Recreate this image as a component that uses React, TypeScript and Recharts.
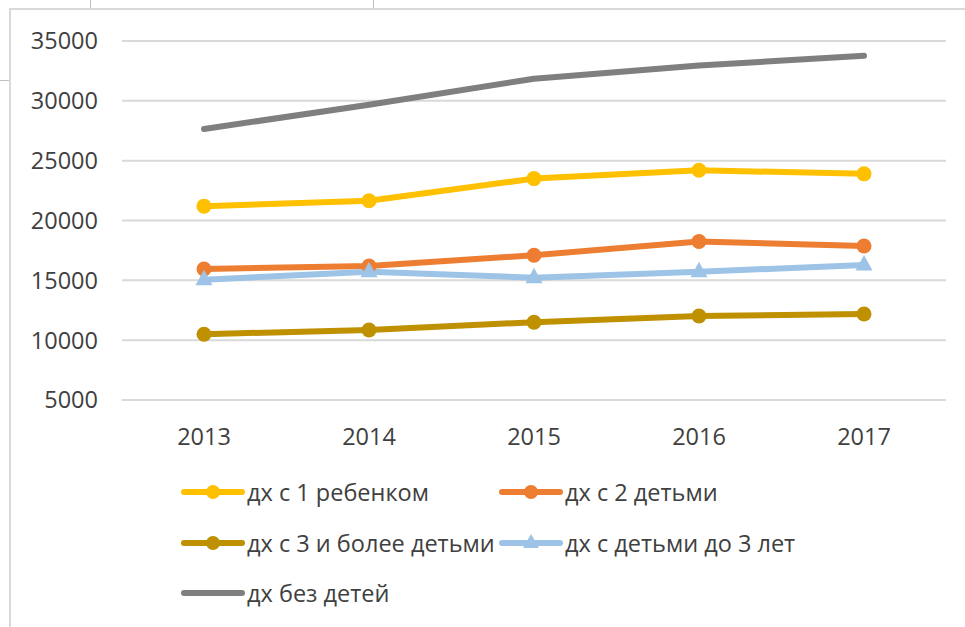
import React from "react";
import { LineChart, Line, XAxis, YAxis, CartesianGrid, Legend } from "recharts";

const YEARS = ["2013", "2014", "2015", "2016", "2017"];
const ONE_CHILD = [21200, 21650, 23500, 24200, 23900];
const TWO_CHILDREN = [15950, 16200, 17100, 18250, 17870];
const THREE_PLUS = [10500, 10850, 11500, 12020, 12190];
const UNDER_THREE = [15050, 15720, 15220, 15720, 16280];
const NO_CHILDREN = [27650, 29680, 31850, 32950, 33760];
const Y_TICKS = [5000, 10000, 15000, 20000, 25000, 30000, 35000];

const FONT = "'Open Sans', sans-serif";
const TEXT = "#404040";
const FONT_SIZE = 23.5;

type Marker = "circle" | "triangle" | "none";

interface SeriesDef {
  key: string;
  name: string;
  color: string;
  marker: Marker;
  values: number[];
}

const SERIES: SeriesDef[] = [
  { key: "one", name: "дх с 1 ребенком", color: "#FFC000", marker: "circle", values: ONE_CHILD },
  { key: "two", name: "дх с 2 детьми", color: "#ED7D31", marker: "circle", values: TWO_CHILDREN },
  { key: "three", name: "дх с 3 и более детьми", color: "#BF9000", marker: "circle", values: THREE_PLUS },
  { key: "under3", name: "дх с детьми до 3 лет", color: "#9DC3E6", marker: "triangle", values: UNDER_THREE },
  { key: "none", name: "дх без детей", color: "#7F7F7F", marker: "none", values: NO_CHILDREN },
];

const data = YEARS.map((year, i) => {
  const row: Record<string, string | number> = { year };
  SERIES.forEach((s) => {
    row[s.key] = s.values[i];
  });
  return row;
});

const makeDot = (s: SeriesDef) => {
  if (s.marker === "none") return false;
  return (props: any) => {
    const { cx, cy, index } = props;
    if (cx == null || cy == null) return <g key={`${s.key}-${index}`} />;
    if (s.marker === "triangle") {
      return (
        <path
          key={`${s.key}-${index}`}
          d={`M${cx},${cy - 10} L${cx + 8.5},${cy + 5.5} L${cx - 8.5},${cy + 5.5} Z`}
          fill={s.color}
        />
      );
    }
    return <circle key={`${s.key}-${index}`} cx={cx} cy={cy} r={7.5} fill={s.color} />;
  };
};

const LegendIcon = ({ s }: { s: SeriesDef }) => (
  <svg width={64} height={20} style={{ display: "block" }}>
    <line x1={3} y1={10} x2={61} y2={10} stroke={s.color} strokeWidth={6} strokeLinecap="round" />
    {s.marker === "circle" && <circle cx={32} cy={10} r={7} fill={s.color} />}
    {s.marker === "triangle" && <path d="M32,1 L40,15 L24,15 Z" fill={s.color} />}
  </svg>
);

const renderLegend = () => {
  const cols = [181, 499];
  const rows = [482, 533, 583];
  return (
    <div style={{ position: "relative", width: 965, height: 627 }}>
      {SERIES.map((s, i) => (
        <div
          key={s.key}
          style={{
            position: "absolute",
            left: cols[i % 2],
            top: rows[Math.floor(i / 2)],
            display: "flex",
            alignItems: "center",
            whiteSpace: "nowrap",
            fontFamily: FONT,
            fontSize: FONT_SIZE,
            color: TEXT,
            lineHeight: "20px",
          }}
        >
          <LegendIcon s={s} />
          <span style={{ marginLeft: 2 }}>{s.name}</span>
        </div>
      ))}
    </div>
  );
};

export default function App() {
  return (
    <div style={{ position: "absolute", left: 0, top: 0, width: 965, height: 627, background: "#fff", overflow: "hidden" }}>
      {/* sheet cell lines behind the chart */}
      <div style={{ position: "absolute", left: 90, top: 0, width: 1, height: 9, background: "#BFBFBF" }} />
      <div style={{ position: "absolute", left: 373, top: 0, width: 1, height: 9, background: "#BFBFBF" }} />
      <div style={{ position: "absolute", left: 0, top: 80, width: 10, height: 1, background: "#BFBFBF" }} />
      {/* chart frame */}
      <div
        style={{
          position: "absolute",
          left: 9,
          top: 8,
          width: 1000,
          height: 700,
          border: "2px solid #D9D9D9",
          background: "#fff",
        }}
      />
      <div style={{ position: "absolute", left: 0, top: 0 }}>
        <LineChart width={965} height={627} data={data} margin={{ top: 41, right: 19, left: 0, bottom: 167 }}>
          <CartesianGrid vertical={false} stroke="#D9D9D9" strokeWidth={2} />
          <XAxis
            dataKey="year"
            axisLine={false}
            tickLine={false}
            height={60}
            tickMargin={22}
            padding={{ left: 82, right: 82 }}
            tick={{ fill: TEXT, fontSize: FONT_SIZE, fontFamily: FONT }}
          />
          <YAxis
            domain={[5000, 35000]}
            ticks={Y_TICKS}
            axisLine={false}
            tickLine={false}
            width={122}
            tickMargin={18}
            interval={0}
            tick={{ fill: TEXT, fontSize: FONT_SIZE, fontFamily: FONT }}
          />
          {SERIES.map((s) => (
            <Line
              key={s.key}
              type="linear"
              dataKey={s.key}
              name={s.name}
              stroke={s.color}
              strokeWidth={6}
              strokeLinecap="round"
              strokeLinejoin="round"
              dot={makeDot(s)}
              activeDot={false}
              isAnimationActive={false}
            />
          ))}
          <Legend
            layout="vertical"
            align="center"
            verticalAlign="middle"
            content={renderLegend}
            wrapperStyle={{ position: "absolute", left: 0, top: 0, width: 965, height: 627, pointerEvents: "none" }}
          />
        </LineChart>
      </div>
    </div>
  );
}
